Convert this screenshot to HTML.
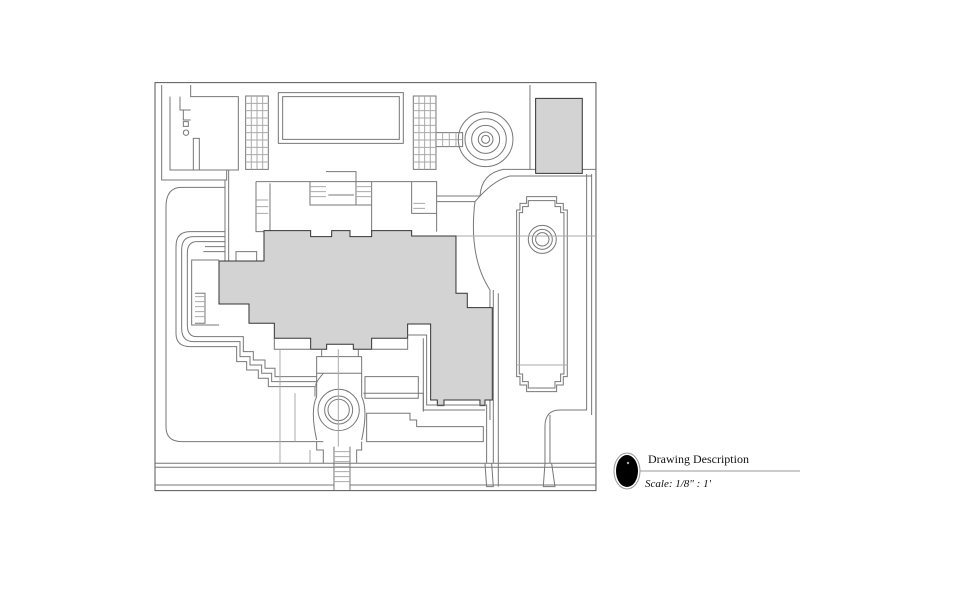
<!DOCTYPE html>
<html><head><meta charset="utf-8"><style>
html,body{margin:0;padding:0;background:#fff;width:960px;height:589px;overflow:hidden}
svg{position:absolute;left:0;top:0}
.t{font-family:"Liberation Serif",serif;fill:#111}
</style></head><body>
<svg width="960" height="589" viewBox="0 0 960 589">
<g transform="translate(150,80) scale(0.3333)" fill="none" stroke="#777" stroke-width="1" vector-effect="non-scaling-stroke">
<g style="vector-effect:non-scaling-stroke">
<rect x="15" y="8" width="1323" height="1224" stroke="#555" vector-effect="non-scaling-stroke"/>
<!-- bottom road -->
<path vector-effect="non-scaling-stroke" d="M15 1150H1338M15 1162H1338M15 1215H552M600 1215H1338"/>
<!-- top-left room -->
<path vector-effect="non-scaling-stroke" d="M35 15V300H230V270H265V50H122V15M60 50V270H265M90 50V90H122M100 90V120H122M130 175V270H148V175Z"/>
<circle vector-effect="non-scaling-stroke" cx="108" cy="158" r="8"/>
<rect vector-effect="non-scaling-stroke" x="100" y="125" width="15" height="14"/>
<!-- grids -->
<g vector-effect="non-scaling-stroke">
<rect vector-effect="non-scaling-stroke" x="287" y="48" width="68" height="220"/>
<rect vector-effect="non-scaling-stroke" x="790" y="48" width="68" height="220"/>
<rect vector-effect="non-scaling-stroke" x="858" y="158" width="80" height="42"/>
</g>
<path vector-effect="non-scaling-stroke" stroke="#aaa" d="M287 70H355M287 92H355M287 114H355M287 136H355M287 158H355M287 180H355M287 202H355M287 224H355M287 246H355M304 48V268M321 48V268M338 48V268M790 70H858M790 92H858M790 114H858M790 136H858M790 158H858M790 180H858M790 202H858M790 224H858M790 246H858M807 48V268M824 48V268M841 48V268M858 179H938M878 158V200M898 158V200M918 158V200"/>
<!-- pool -->
<rect vector-effect="non-scaling-stroke" x="385" y="38" width="375" height="152"/>
<rect vector-effect="non-scaling-stroke" x="398" y="50" width="350" height="128"/>
<!-- top fountain -->
<circle vector-effect="non-scaling-stroke" cx="1007" cy="178" r="82"/>
<circle vector-effect="non-scaling-stroke" cx="1007" cy="178" r="62"/>
<circle vector-effect="non-scaling-stroke" cx="1007" cy="178" r="42"/>
<circle vector-effect="non-scaling-stroke" cx="1007" cy="178" r="22"/>
<circle vector-effect="non-scaling-stroke" cx="1007" cy="178" r="12"/>
<path vector-effect="non-scaling-stroke" d="M1140 15V268H1338"/>
<!-- gray box -->
<rect x="1157" y="55" width="140" height="225" fill="#d3d3d3" stroke="#333" vector-effect="non-scaling-stroke"/>
<!-- curve area -->
<path vector-effect="non-scaling-stroke" d="M860 348H990Q995 280 1060 268H1140M860 365H975Q955 530 1020 630V1020M1325 282V1005M1310 282V990H1230Q1185 990 1185 1040V1150M1200 1005V1150M1030 630V1150M1045 640V1220"/>
<path vector-effect="non-scaling-stroke" d="M975 365Q1030 300 1080 288H1325"/>
<!-- right pool panel -->
<path vector-effect="non-scaling-stroke" d="M1130 350H1220V370H1240V390H1252V890H1240V915H1220V935H1130V915H1110V890H1100V390H1110V370H1130Z"/>
<path vector-effect="non-scaling-stroke" d="M1135 362H1215V380H1232V398H1242V882H1232V905H1215V924H1135V905H1118V882H1108V398H1118V380H1135Z"/>
<circle vector-effect="non-scaling-stroke" cx="1177" cy="478" r="42"/>
<circle vector-effect="non-scaling-stroke" cx="1177" cy="478" r="30"/>
<circle vector-effect="non-scaling-stroke" cx="1177" cy="478" r="20"/>
<path vector-effect="non-scaling-stroke" stroke="#aaa" d="M860 468H1338M1100 855H1252"/>
<!-- terrace top -->
<path vector-effect="non-scaling-stroke" d="M318 305H860V455M318 305V455H342M360 310V455M480 305V375H665V305M528 275H618V375M535 345H612M665 310V455M785 305V400H860M236 270V545M225 300V545"/>
<path vector-effect="non-scaling-stroke" stroke="#aaa" d="M480 320H528M480 335H528M480 350H528M618 320H665M618 335H665M618 350H665M320 360H355M320 380H355M320 400H355M790 370H825M790 385H825"/>
<!-- left garden outlines -->
<path vector-effect="non-scaling-stroke" d="M225 322H95Q48 322 48 380V1040Q48 1085 95 1085H520"/>
<path vector-effect="non-scaling-stroke" d="M225 455H120Q78 455 78 500V760Q78 800 120 800H260V845H290V870H325V895H355V920H495V950"/>
<path vector-effect="non-scaling-stroke" d="M225 470H130Q95 470 95 510V745Q95 785 130 785H270V830H300V855H335V880H365V905H500"/>
<path vector-effect="non-scaling-stroke" d="M225 485H140Q112 485 112 520V735Q112 770 140 770H280V815H310V840H345V865H375V890H500"/>
<path vector-effect="non-scaling-stroke" d="M207 540H125V735H207M135 640H165V730H135M165 500H225M160 515H225V545"/>
<path vector-effect="non-scaling-stroke" stroke="#aaa" d="M135 650H165M135 665H165M135 680H165M135 695H165M135 710H165"/>
<rect vector-effect="non-scaling-stroke" x="258" y="515" width="62" height="28"/>
<!-- building -->
<path fill="#d3d3d3" stroke="#333" vector-effect="non-scaling-stroke" d="M207 543H342V452H482V470H545V452H600V470H665V452H785V468H918V640H952V683H1027V960H1005V977H990V960H882V977H862V960H842V732H773V775H665V808H610V793H530V808H482V775H373V730H297V672H207Z"/>
<!-- south area -->
<path vector-effect="non-scaling-stroke" d="M373 775V808H482M665 808H773V775M773 765H830V975H1010V1150M820 775V990H1005M500 830H635V880H500ZM515 810V830M625 810V830M500 1085V1110H520V1150M635 1085V1110H620V1150"/>
<path vector-effect="non-scaling-stroke" d="M500 950Q480 990 500 1080M635 950Q655 990 635 1080M500 880V950M635 880V950"/>
<path vector-effect="non-scaling-stroke" d="M520 880Q490 915 500 920M645 890H805V955H645ZM650 1000H780V1020H800V1040H1000V1085H650ZM640 940H820V995"/>
<circle vector-effect="non-scaling-stroke" cx="566" cy="990" r="62"/>
<circle vector-effect="non-scaling-stroke" cx="566" cy="990" r="42"/>
<circle vector-effect="non-scaling-stroke" cx="566" cy="990" r="32"/>
<path vector-effect="non-scaling-stroke" d="M552 1100V1232M600 1100V1232"/>
<path vector-effect="non-scaling-stroke" stroke="#aaa" d="M552 1115H600M552 1130H600M552 1145H600M552 1160H600M552 1175H600M552 1190H600M552 1205H600M390 808V1150M435 940V1085M565 808V1100M480 1110V1150"/>
<path vector-effect="non-scaling-stroke" d="M1005 1150L1010 1220H1030L1025 1150M1185 1150L1180 1220H1215L1205 1150"/>
</g>
</g>
<!-- legend -->
<ellipse cx="627" cy="471" rx="13" ry="18" fill="#fff" stroke="#999" stroke-width="1"/>
<ellipse cx="627" cy="471" rx="11" ry="16" fill="#000"/>
<circle cx="628" cy="463" r="1.2" fill="#aaa"/>
<text class="t" x="648" y="463" font-size="12">Drawing Description</text>
<line x1="640" y1="471" x2="800" y2="471" stroke="#999" stroke-width="1"/>
<text class="t" x="645" y="487" font-size="11" font-style="italic">Scale:  1/8" : 1'</text>
</svg>
</body></html>
